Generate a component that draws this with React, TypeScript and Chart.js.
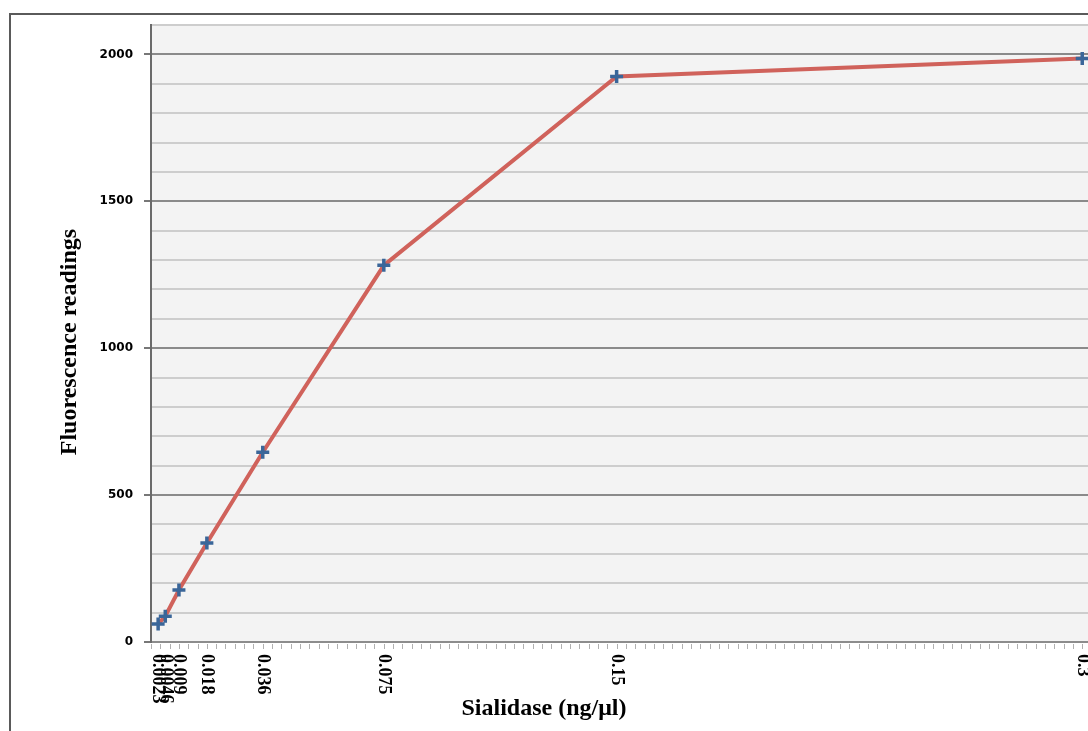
import React, { useEffect, useRef } from "react";
import { Chart, registerables } from "chart.js";

Chart.register(...registerables);

const concentrations = [0.0023, 0.0046, 0.009, 0.018, 0.036, 0.075, 0.15, 0.3];
const xTickLabels = ["0.0023", "0.0046", "0.009", "0.018", "0.036", "0.075", "0.15", "0.3"];
const fluorescence = [61, 88, 177, 337, 646, 1282, 1925, 1986];
const yTicksMajor = [0, 500, 1000, 1500, 2000];
const xTitle = "Sialidase (ng/\u03bcl)";
const yTitle = "Fluorescence readings";

const W = 1100;
const H = 731;

export default function App() {
  const ref = useRef<HTMLCanvasElement | null>(null);

  useEffect(() => {
    const canvas = ref.current;
    if (!canvas) return;

    const decor = {
      id: "decor",
      beforeDraw(chart: any) {
        const { ctx, chartArea } = chart;
        ctx.save();
        ctx.fillStyle = "#f3f3f3";
        ctx.fillRect(chartArea.left, chartArea.top, W - chartArea.left, chartArea.bottom - chartArea.top);
        ctx.restore();
      },
      afterDraw(chart: any) {
        const { ctx, chartArea } = chart;
        const xs = chart.scales.x;
        ctx.save();
        // minor tick marks under x axis
        ctx.strokeStyle = "#b0b0b0";
        ctx.lineWidth = 1;
        for (let i = 0; i <= 101; i++) {
          const px = Math.round(xs.getPixelForValue(i * 0.003)) + 0.5;
          ctx.beginPath();
          ctx.moveTo(px, chartArea.bottom + 2);
          ctx.lineTo(px, chartArea.bottom + 7);
          ctx.stroke();
        }
        // rotated x labels
        ctx.fillStyle = "#000";
        ctx.font = "bold 18px 'Liberation Serif', 'DejaVu Serif', serif";
        ctx.textAlign = "left";
        ctx.textBaseline = "middle";
        concentrations.forEach((v, i) => {
          const px = xs.getPixelForValue(v);
          ctx.save();
          ctx.translate(px, chartArea.bottom + 12);
          ctx.rotate(Math.PI / 2);
          ctx.fillText(xTickLabels[i], 0, 0);
          ctx.restore();
        });
        // titles
        ctx.font = "bold 24px 'Liberation Serif', 'DejaVu Serif', serif";
        ctx.textAlign = "center";
        ctx.textBaseline = "middle";
        ctx.fillText(xTitle, 544, 709);
        ctx.save();
        ctx.translate(70, 342);
        ctx.rotate(-Math.PI / 2);
        ctx.fillText(yTitle, 0, 0);
        ctx.restore();
        ctx.restore();
      },
    };

    const xMax = 0.3025;
    const plotLeft = 151;
    const pxPerUnit = (1086 - plotLeft) / 0.3;
    const plotRight = plotLeft + pxPerUnit * xMax;

    const chart = new Chart(canvas, {
      type: "line",
      data: {
        datasets: [
          {
            data: concentrations.map((c, i) => ({ x: c, y: fluorescence[i] })),
            borderColor: "#d0625b",
            borderWidth: 4,
            tension: 0,
            pointStyle: "cross",
            pointRadius: 6.5,
            pointBorderWidth: 3.5,
            pointBorderColor: "#3a6699",
            pointBackgroundColor: "#3a6699",
            clip: false as any,
          },
        ],
      },
      options: {
        animation: false,
        responsive: false,
        devicePixelRatio: 1,
        layout: { padding: { top: 25, left: 0, bottom: 0, right: W - plotRight } },
        plugins: { legend: { display: false }, tooltip: { enabled: false }, title: { display: false } },
        scales: {
          x: {
            type: "linear",
            min: 0,
            max: xMax,
            afterBuildTicks: (axis: any) => {
              axis.ticks = concentrations.map((v) => ({ value: v }));
            },
            afterFit: (axis: any) => {
              axis.height = 731 - 642;
            },
            ticks: { display: false },
            grid: { display: true, drawOnChartArea: false, drawTicks: false },
            border: { display: true, color: "#8c8c8c", width: 2 },
          },
          y: {
            min: 0,
            max: 2100,
            afterBuildTicks: (axis: any) => {
              const t: any[] = [];
              for (let v = 0; v <= 2100; v += 100) t.push({ value: v });
              axis.ticks = t;
            },
            afterFit: (axis: any) => {
              axis.width = plotLeft;
            },
            ticks: {
              padding: 11,
              color: "#000",
              font: { family: "'DejaVu Sans', sans-serif", size: 12, weight: "bold" },
              callback: (v: any) => (yTicksMajor.includes(Number(v)) ? String(v) : ""),
            },
            grid: {
              color: (c: any) => (c.tick && c.tick.value % 500 === 0 ? "#8a8a8a" : "#cdcdcd"),
              lineWidth: 2,
              tickLength: 7,
              tickColor: (c: any) => (c.tick && c.tick.value % 500 === 0 ? "#777" : "rgba(0,0,0,0)"),
            },
            border: { display: true, color: "#6a6a6a", width: 2 },
          },
        },
      },
      plugins: [decor],
    });

    return () => chart.destroy();
  }, []);

  return (
    <div
      style={{
        position: "fixed",
        left: 0,
        top: 0,
        width: 1088,
        height: 731,
        overflow: "hidden",
        background: "#fff",
      }}
    >
      <canvas
        ref={ref}
        width={W}
        height={H}
        style={{ position: "absolute", left: 0, top: 0, width: W, height: H }}
      />
      <div
        style={{
          position: "absolute",
          left: 9,
          top: 13,
          width: 1100,
          height: 800,
          borderLeft: "2px solid #5a5a5a",
          borderTop: "2px solid #5a5a5a",
          pointerEvents: "none",
        }}
      />
    </div>
  );
}
